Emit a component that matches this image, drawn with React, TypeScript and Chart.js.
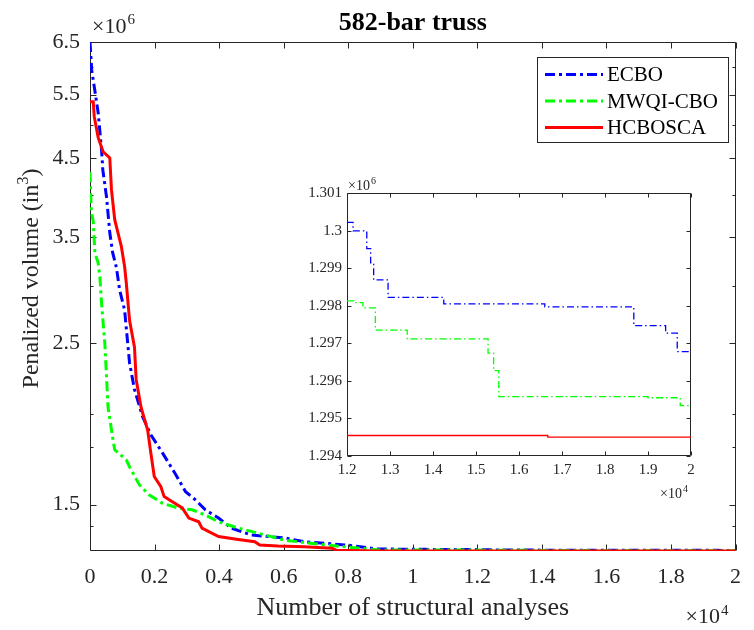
import React, { useEffect, useRef } from "react";
import { Chart, registerables } from "chart.js";

Chart.register(...registerables);

const FONT = '"Liberation Serif", "Times New Roman", Times, serif';
const AXIS_COLOR = "#262626";

// ---------------- data (x: structural analyses, y: penalized volume in units of 10^6 in^3) ----------------
// ECBO
const ecboEarlyX = [0, 52, 153, 254, 358, 398, 511, 613, 704, 818, 919, 1072, 1225, 1378, 1632, 1890, 2245, 2655, 2962, 3268, 3574, 3982, 4380, 4992, 6034, 6646, 7963, 8882, 10400];
const ecboEarlyY = [6.5, 5.95, 5.56, 5.19, 4.62, 4.33, 3.98, 3.55, 3.33, 3.18, 2.96, 2.78, 2.35, 2.16, 1.98, 1.87, 1.767, 1.65, 1.562, 1.522, 1.475, 1.437, 1.392, 1.362, 1.349, 1.333, 1.319, 1.3028, 1.3012];
const ecboLateX = [12000, 12140, 12460, 12550, 12620, 12955, 14250, 16600, 18670, 19410, 19680, 20000];
const ecboLateY = [1.30022, 1.29999, 1.29952, 1.29914, 1.29869, 1.29822, 1.29805, 1.29797, 1.29747, 1.29727, 1.29678, 1.29678];

// MWQI-CBO
const mwqiEarlyX = [0, 40, 100, 153, 250, 306, 358, 459, 560, 714, 766, 1124, 1225, 1531, 1838, 2245, 2757, 3164, 3574, 3982, 4594, 5207, 6024, 6839, 7963, 8974, 10400];
const mwqiEarlyY = [4.3, 3.8, 3.68, 3.33, 3.23, 3.09, 2.84, 2.5, 2.04, 1.84, 1.784, 1.728, 1.691, 1.596, 1.546, 1.506, 1.482, 1.475, 1.451, 1.42, 1.392, 1.37, 1.34, 1.3265, 1.311, 1.2986, 1.2983];
const mwqiLateX = [12000, 12160, 12370, 12660, 13400, 15280, 15410, 15530, 19000, 19750, 20000];
const mwqiLateY = [1.29813, 1.29808, 1.29794, 1.29735, 1.29712, 1.29674, 1.29627, 1.29558, 1.29555, 1.29534, 1.29534];

// HCBOSCA
const hcboEarlyX = [0, 101, 132, 254, 407, 613, 665, 766, 867, 971, 1072, 1124, 1225, 1378, 1430, 1583, 1786, 1890, 1991, 2196, 2297, 2551, 2858, 3063, 3369, 3470, 3982, 4594, 5106, 5259, 5819, 6637, 7500, 7630, 8882, 10400];
const hcboEarlyY = [5.38, 5.38, 5.13, 4.8, 4.59, 4.5, 4.07, 3.7, 3.55, 3.4, 3.19, 3.03, 2.69, 2.47, 2.23, 2.04, 1.9, 1.76, 1.639, 1.587, 1.538, 1.513, 1.484, 1.437, 1.42, 1.392, 1.355, 1.343, 1.333, 1.319, 1.315, 1.312, 1.306, 1.298, 1.2947, 1.29458];
const hcboLateX = [12000, 16670, 20000];
const hcboLateY = [1.294545, 1.2945, 1.2945];

// ticks
const mainXTicks = [0, 2000, 4000, 6000, 8000, 10000, 12000, 14000, 16000, 18000, 20000];
const mainYTicks = [1.5, 2.5, 3.5, 4.5, 5.5, 6.5];
const mainYMinorTicks = [1.4, 1.8, 2, 3, 4, 5, 6];
const insetXTicks = [12000, 13000, 14000, 15000, 16000, 17000, 18000, 19000, 20000];
const insetYTicks = [1.294, 1.295, 1.296, 1.297, 1.298, 1.299, 1.3, 1.301];

const seriesNames = ["ECBO", "MWQI-CBO", "HCBOSCA"];
const seriesColors = ["#0000ff", "#00ff00", "#ff0000"];

const zip = (xs: number[], ys: number[]) => xs.map((x, i) => ({ x, y: ys[i] }));
const fmt = (v: number) => String(Number(v.toFixed(3)));

function drawTimes(ctx: CanvasRenderingContext2D, x: number, y: number, sup: string, baseSize: number, supSize: number, rise: number) {
  ctx.font = `${baseSize}px ${FONT}`;
  ctx.textAlign = "left";
  ctx.textBaseline = "alphabetic";
  const t = "\u00d7" + "10";
  ctx.fillText(t, x, y);
  const w = ctx.measureText(t).width;
  ctx.font = `${supSize}px ${FONT}`;
  ctx.fillText(sup, x + w + 1, y - rise);
}

function drawFrame(chart: any, xt: number[], yt: number[], yMinor: number[], len: number, minorLen: number) {
  const { ctx, chartArea: a, scales } = chart;
  const L = Math.round(a.left) + 0.5;
  const R = Math.round(a.right) - 0.5;
  const T = Math.round(a.top) + 0.5;
  const B = Math.round(a.bottom) - 0.5;
  ctx.save();
  ctx.setLineDash([]);
  ctx.strokeStyle = AXIS_COLOR;
  ctx.lineWidth = 1;
  ctx.beginPath();
  ctx.rect(L, T, R - L, B - T);
  for (const v of xt) {
    const p = Math.round(scales.x.getPixelForValue(v)) + 0.5;
    ctx.moveTo(p, B); ctx.lineTo(p, B - len);
    ctx.moveTo(p, T); ctx.lineTo(p, T + len);
  }
  for (const v of yt) {
    const p = Math.round(scales.y.getPixelForValue(v)) + 0.5;
    ctx.moveTo(L, p); ctx.lineTo(L + len, p);
    ctx.moveTo(R, p); ctx.lineTo(R - len, p);
  }
  for (const v of yMinor) {
    const p = Math.round(scales.y.getPixelForValue(v)) + 0.5;
    ctx.moveTo(L, p); ctx.lineTo(L + minorLen, p);
    ctx.moveTo(R, p); ctx.lineTo(R - minorLen, p);
  }
  ctx.stroke();
  ctx.restore();
}

const mainDecor = {
  id: "mainDecor",
  beforeDatasetsDraw(chart: any) {
    drawFrame(chart, mainXTicks, mainYTicks, mainYMinorTicks, 6, 3);
  },
  afterDraw(chart: any) {
    const { ctx, chartArea: a } = chart;
    ctx.save();
    // title
    ctx.fillStyle = "#000";
    ctx.font = `bold 26px ${FONT}`;
    ctx.textAlign = "center";
    ctx.textBaseline = "alphabetic";
    ctx.fillText("582-bar truss", (a.left + a.right) / 2, 30);
    // x label
    ctx.fillStyle = AXIS_COLOR;
    ctx.font = `26px ${FONT}`;
    ctx.fillText("Number of structural analyses", (a.left + a.right) / 2, 615);
    // exponent labels
    drawTimes(ctx, a.left + 2, 33, "6", 22, 15, 9);
    drawTimes(ctx, a.right - 50, 623, "4", 22, 15, 8);
    // y label rotated
    ctx.save();
    ctx.translate(38, 278.5);
    ctx.rotate(-Math.PI / 2);
    ctx.font = `24px ${FONT}`;
    const p1 = "Penalized volume (in";
    const p3 = ")";
    const w1 = ctx.measureText(p1).width;
    const w3 = ctx.measureText(p3).width;
    ctx.font = `16px ${FONT}`;
    const w2 = ctx.measureText("3").width;
    const total = w1 + w2 + w3;
    let sx = -total / 2;
    ctx.textAlign = "left";
    ctx.font = `24px ${FONT}`;
    ctx.fillText(p1, sx, 0);
    sx += w1;
    ctx.font = `16px ${FONT}`;
    ctx.fillText("3", sx, -10);
    sx += w2;
    ctx.font = `24px ${FONT}`;
    ctx.fillText(p3, sx, 0);
    ctx.restore();
    // legend
    const bx = 537.5, by = 57.5, bw = 191, bh = 85;
    ctx.fillStyle = "#fff";
    ctx.fillRect(bx, by, bw, bh);
    ctx.strokeStyle = AXIS_COLOR;
    ctx.lineWidth = 1;
    ctx.setLineDash([]);
    ctx.strokeRect(bx, by, bw, bh);
    chart.data.datasets.forEach((ds: any, i: number) => {
      const ry = by + 17 + i * 26.5;
      ctx.beginPath();
      ctx.strokeStyle = ds.borderColor;
      ctx.lineWidth = 3;
      ctx.setLineDash(ds.borderDash || []);
      ctx.moveTo(545, ry);
      ctx.lineTo(603, ry);
      ctx.stroke();
      ctx.setLineDash([]);
      ctx.fillStyle = "#000";
      ctx.font = `21px ${FONT}`;
      ctx.textAlign = "left";
      ctx.textBaseline = "middle";
      ctx.fillText(ds.label, 607, ry + 1);
    });
    ctx.restore();
  },
};

const insetDecor = {
  id: "insetDecor",
  beforeDraw(chart: any) {
    const { ctx, chartArea: a } = chart;
    ctx.save();
    ctx.fillStyle = "#fff";
    ctx.fillRect(a.left, a.top, a.right - a.left, a.bottom - a.top);
    ctx.restore();
  },
  beforeDatasetsDraw(chart: any) {
    drawFrame(chart, insetXTicks, insetYTicks, [], 4, 0);
  },
  afterDraw(chart: any) {
    const { ctx, chartArea: a } = chart;
    ctx.save();
    ctx.fillStyle = AXIS_COLOR;
    drawTimes(ctx, a.left + 1, 20, "6", 14, 10, 6);
    drawTimes(ctx, a.right - 31, 328, "4", 14, 10, 6);
    ctx.restore();
  },
};

const tickFont = (size: number) => ({ family: FONT, size });

export default function App() {
  const mainRef = useRef<HTMLCanvasElement | null>(null);
  const insetRef = useRef<HTMLCanvasElement | null>(null);

  useEffect(() => {
    const dashMain = [10, 4, 3, 4];
    const dashInset = [7, 3, 1.5, 3];
    const mainData = [
      zip([...ecboEarlyX, ...ecboLateX], [...ecboEarlyY, ...ecboLateY]),
      zip([...mwqiEarlyX, ...mwqiLateX], [...mwqiEarlyY, ...mwqiLateY]),
      zip([...hcboEarlyX, ...hcboLateX], [...hcboEarlyY, ...hcboLateY]),
    ];
    const insetData = [zip(ecboLateX, ecboLateY), zip(mwqiLateX, mwqiLateY), zip(hcboLateX, hcboLateY)];

    const main = new Chart(mainRef.current as HTMLCanvasElement, {
      type: "line",
      data: {
        datasets: mainData.map((d, i) => ({
          label: seriesNames[i],
          data: d,
          borderColor: seriesColors[i],
          backgroundColor: seriesColors[i],
          borderWidth: 3,
          borderDash: i < 2 ? dashMain : [],
          pointRadius: 0,
          tension: 0,
          fill: false,
          order: 3 - i,
        })),
      },
      options: {
        animation: false,
        responsive: false,
        events: [],
        layout: { padding: { top: 42, right: 11, left: 0, bottom: 0 } },
        plugins: { legend: { display: false }, tooltip: { enabled: false }, title: { display: false } },
        scales: {
          x: {
            type: "linear",
            min: 0,
            max: 20000,
            grid: { display: false, drawTicks: false },
            border: { display: false },
            afterBuildTicks: (s: any) => { s.ticks = mainXTicks.map((v) => ({ value: v })); },
            afterFit: (s: any) => { s.height = 79; },
            ticks: { color: AXIS_COLOR, font: tickFont(22), padding: 13, maxRotation: 0, autoSkip: false, callback: (v: any) => fmt(Number(v) / 10000) },
          },
          y: {
            type: "logarithmic",
            min: 1.2945,
            max: 6.5,
            grid: { display: false, drawTicks: false },
            border: { display: false },
            afterBuildTicks: (s: any) => { s.ticks = mainYTicks.map((v) => ({ value: v })); },
            afterFit: (s: any) => { s.width = 90; },
            ticks: { color: AXIS_COLOR, font: tickFont(22), padding: 10, autoSkip: false, callback: (v: any) => fmt(Number(v)) },
          },
        },
      } as any,
      plugins: [mainDecor],
    });

    const inset = new Chart(insetRef.current as HTMLCanvasElement, {
      type: "line",
      data: {
        datasets: insetData.map((d, i) => ({
          label: seriesNames[i],
          data: d,
          borderColor: seriesColors[i],
          backgroundColor: seriesColors[i],
          borderWidth: 1.3,
          borderDash: i < 2 ? dashInset : [],
          pointRadius: 0,
          stepped: "before",
          fill: false,
          order: 3 - i,
        })),
      },
      options: {
        animation: false,
        responsive: false,
        events: [],
        layout: { padding: { top: 23, right: 44, left: 0, bottom: 0 } },
        plugins: { legend: { display: false }, tooltip: { enabled: false }, title: { display: false } },
        scales: {
          x: {
            type: "linear",
            min: 12000,
            max: 20000,
            grid: { display: false, drawTicks: false },
            border: { display: false },
            afterBuildTicks: (s: any) => { s.ticks = insetXTicks.map((v) => ({ value: v })); },
            afterFit: (s: any) => { s.height = 49; },
            ticks: { color: AXIS_COLOR, font: tickFont(15), padding: 5, maxRotation: 0, autoSkip: false, callback: (v: any) => fmt(Number(v) / 10000) },
          },
          y: {
            type: "linear",
            min: 1.294,
            max: 1.301,
            grid: { display: false, drawTicks: false },
            border: { display: false },
            afterBuildTicks: (s: any) => { s.ticks = insetYTicks.map((v) => ({ value: v })); },
            afterFit: (s: any) => { s.width = 57; },
            ticks: { color: AXIS_COLOR, font: tickFont(15), padding: 5, autoSkip: false, callback: (v: any) => fmt(Number(v)) },
          },
        },
      } as any,
      plugins: [insetDecor],
    });

    return () => {
      main.destroy();
      inset.destroy();
    };
  }, []);

  return (
    <div style={{ position: "fixed", left: 0, top: 0, width: 754, height: 630, background: "#fff", overflow: "hidden" }}>
      <canvas ref={mainRef} width={754} height={630} style={{ position: "absolute", left: 0, top: 0 }} />
      <canvas ref={insetRef} width={445} height={335} style={{ position: "absolute", left: 290, top: 170 }} />
    </div>
  );
}
